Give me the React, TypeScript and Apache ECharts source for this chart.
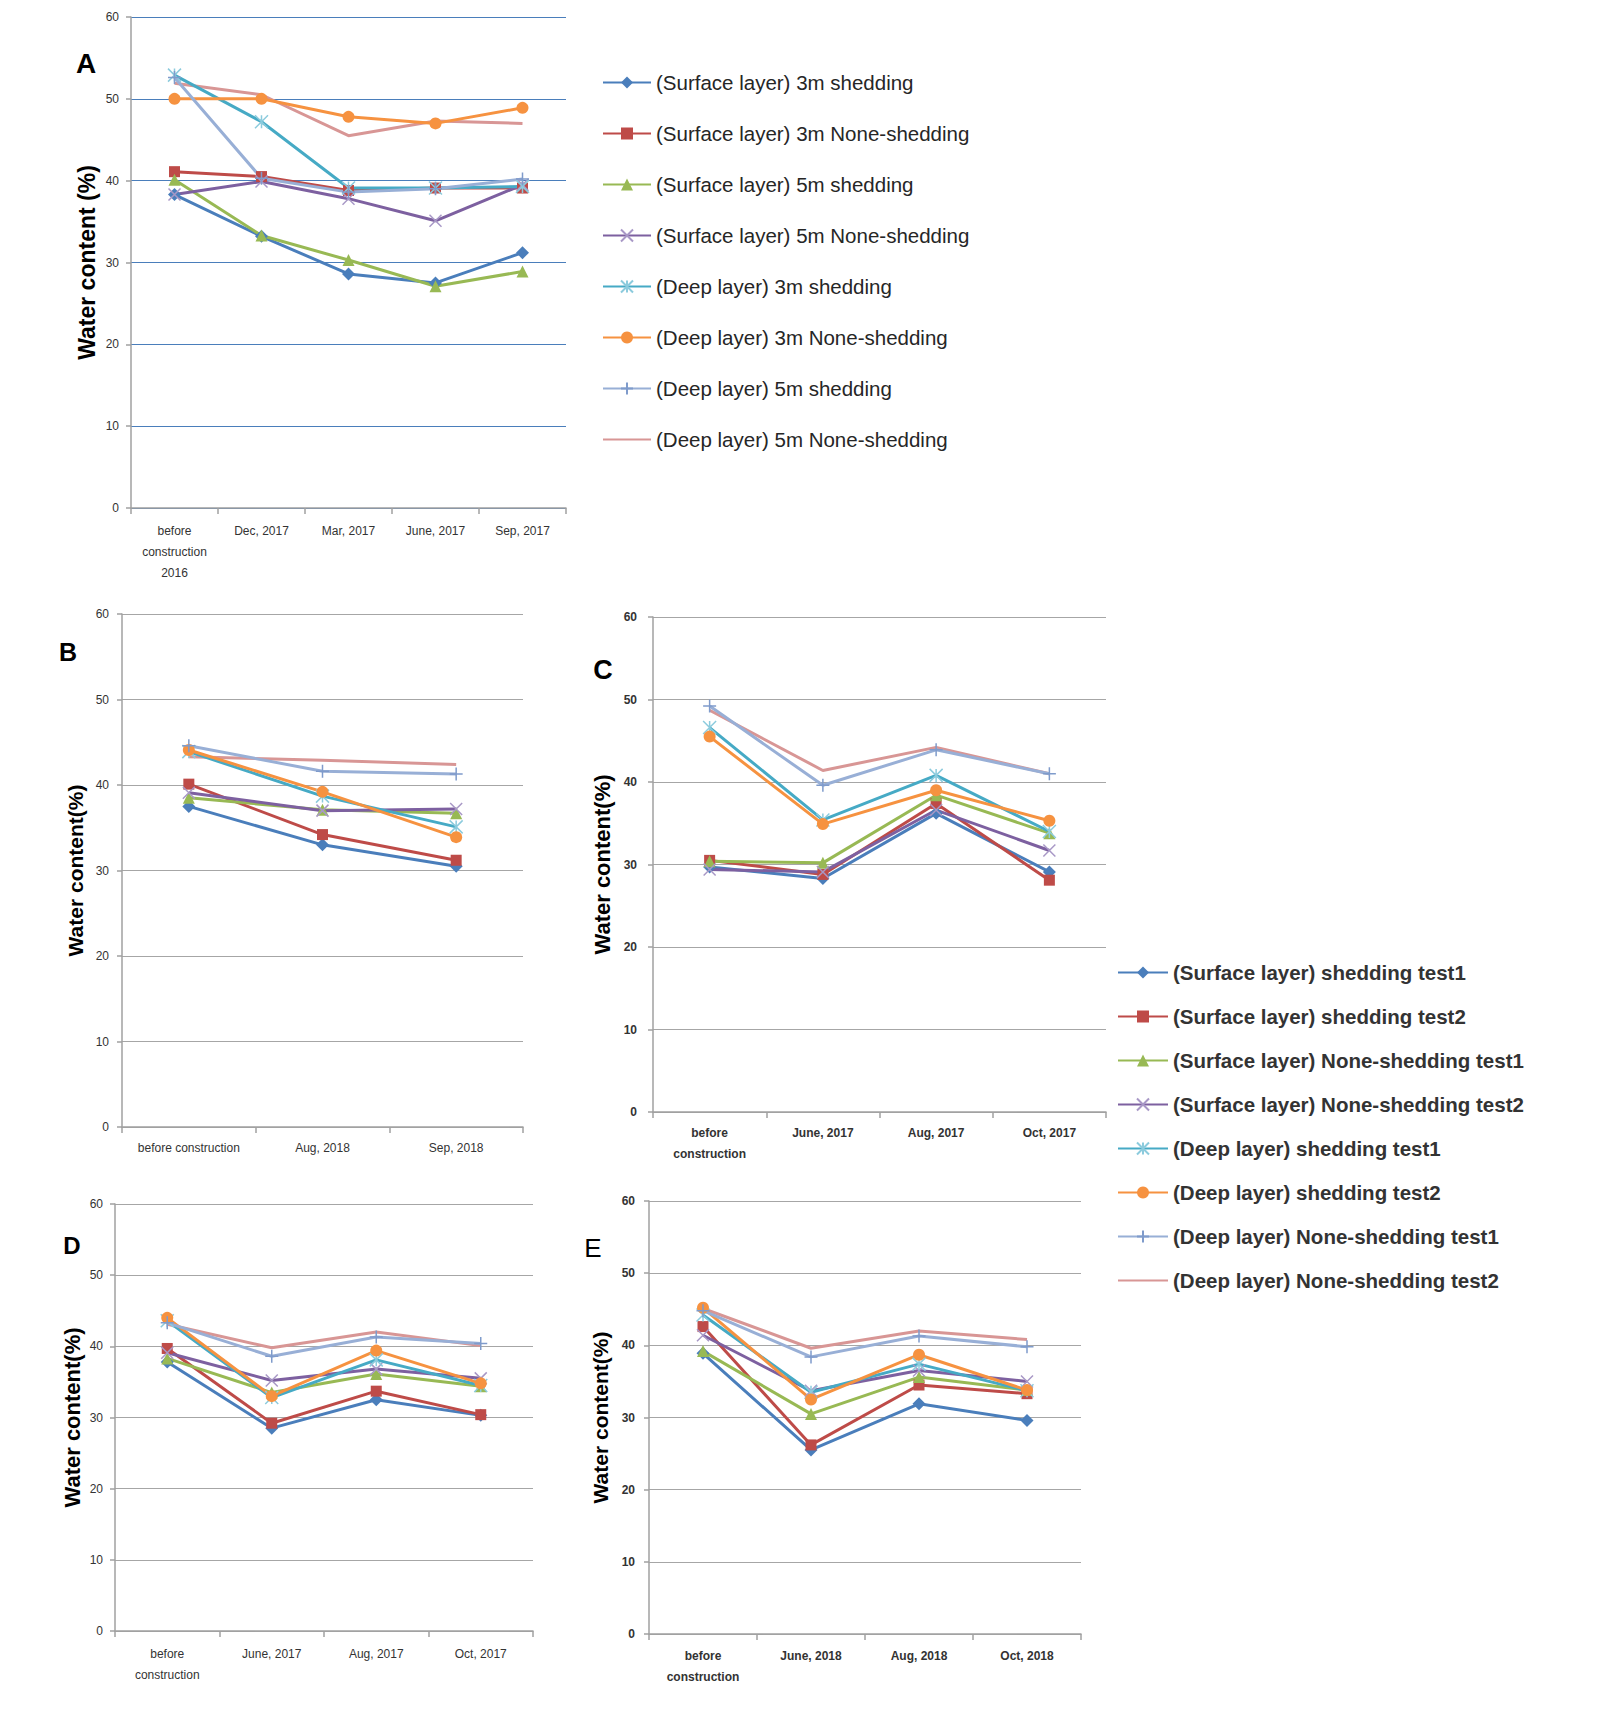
import React, { useEffect, useRef } from "react";
import * as echarts from "echarts";

// ---------- data ----------
const namesA = [
  "(Surface layer) 3m shedding",
  "(Surface layer) 3m None-shedding",
  "(Surface layer) 5m shedding",
  "(Surface layer) 5m None-shedding",
  "(Deep layer) 3m shedding",
  "(Deep layer) 3m None-shedding",
  "(Deep layer) 5m shedding",
  "(Deep layer) 5m None-shedding",
];
const namesTest = [
  "(Surface layer) shedding test1",
  "(Surface layer) shedding test2",
  "(Surface layer) None-shedding test1",
  "(Surface layer) None-shedding test2",
  "(Deep layer) shedding test1",
  "(Deep layer) shedding test2",
  "(Deep layer) None-shedding test1",
  "(Deep layer) None-shedding test2",
];

const yTicks = [0, 10, 20, 30, 40, 50, 60];

const catsA = ["before\nconstruction\n2016", "Dec, 2017", "Mar, 2017", "June, 2017", "Sep, 2017"];
const catsB = ["before construction", "Aug, 2018", "Sep, 2018"];
const catsC = ["before\nconstruction", "June, 2017", "Aug, 2017", "Oct, 2017"];
const catsD = ["before\nconstruction", "June, 2017", "Aug, 2017", "Oct, 2017"];
const catsE = ["before\nconstruction", "June, 2018", "Aug, 2018", "Oct, 2018"];

const valuesA = [
  [38.3, 33.2, 28.6, 27.5, 31.2],
  [41.1, 40.5, 38.8, 39.1, 39.1],
  [40.1, 33.3, 30.3, 27.1, 28.9],
  [38.3, 39.9, 37.8, 35.1, 39.5],
  [52.9, 47.2, 39.1, 39.1, 39.3],
  [50.0, 50.0, 47.8, 47.0, 48.9],
  [52.6, 40.3, 38.6, 39.0, 40.2],
  [51.9, 50.5, 45.5, 47.3, 47.0],
];
const valuesB = [
  [37.5, 33.0, 30.5],
  [40.1, 34.2, 31.2],
  [38.5, 37.1, 36.7],
  [39.1, 37.0, 37.2],
  [43.9, 38.7, 35.1],
  [44.1, 39.2, 33.9],
  [44.6, 41.6, 41.3],
  [43.3, 42.9, 42.4],
];
const valuesC = [
  [29.7, 28.3, 36.2, 29.1],
  [30.5, 28.8, 37.4, 28.1],
  [30.4, 30.2, 38.4, 33.8],
  [29.4, 29.1, 36.6, 31.7],
  [46.6, 35.4, 40.8, 34.0],
  [45.5, 34.9, 39.0, 35.3],
  [49.2, 39.6, 43.9, 41.0],
  [48.7, 41.4, 44.2, 41.0],
];
const valuesD = [
  [37.8, 28.5, 32.5, 30.3],
  [39.7, 29.2, 33.7, 30.4],
  [38.3, 33.5, 36.1, 34.4],
  [39.1, 35.2, 36.8, 35.5],
  [43.6, 32.8, 38.1, 34.5],
  [44.0, 33.0, 39.4, 34.8],
  [43.3, 38.6, 41.3, 40.4],
  [43.1, 39.8, 42.0, 40.1],
];
const valuesE = [
  [38.9, 25.5, 31.9, 29.6],
  [42.6, 26.2, 34.5, 33.3],
  [39.2, 30.5, 35.6, 33.8],
  [41.4, 33.7, 36.5, 35.0],
  [44.2, 33.5, 37.4, 33.7],
  [45.2, 32.5, 38.7, 33.8],
  [44.8, 38.4, 41.3, 39.8],
  [45.1, 39.6, 42.0, 40.8],
];

// ---------- styles ----------
const COLORS = ["#4A7EBB", "#BE4B48", "#98B954", "#7D60A0", "#46AAC5", "#F69240", "#98AFD6", "#D89695"];
const MARKER_STROKE = ["#4A7EBB", "#BE4B48", "#98B954", "#A898C6", "#8CCBDD", "#F69240", "#7F9BCB", "#D89695"];
const SYMBOLS = [
  "diamond",
  "rect",
  "triangle",
  "path://M0,0L10,10M10,0L0,10",
  "path://M0,0L10,10M10,0L0,10M5,0L5,10",
  "circle",
  "path://M5,0L5,10M0,5L10,5",
  "none",
];
const STROKED = [false, false, false, true, true, false, true, false];
const SIZES = [13, 11, 12, 12, 13, 12, 13, 0];
const FONT = "Liberation Sans";

type Panel = {
  cats: string[];
  values: number[][];
  names: string[];
  grid: { left: number; top: number; width: number; height: number };
  gridColor: string;
  yName: string;
  yNameGap: number;
  yNameSize: number;
  yLabelMargin: number;
  yLabelBold: boolean;
  xLabelMargin: number;
  xLineHeight: number;
  xLabelSize: number;
  xLabelBold: boolean;
  letter: string;
  letterPos: [number, number];
  letterSize: number;
  letterBold: boolean;
};

const panels: Panel[] = [
  {
    cats: catsA, values: valuesA, names: namesA,
    grid: { left: 131, top: 17, width: 435, height: 491 },
    gridColor: "#4A7EBB", yName: "Water content (%)", yNameGap: 33, yNameSize: 23,
    yLabelMargin: 12, yLabelBold: false, xLabelMargin: 12, xLineHeight: 21, xLabelSize: 12, xLabelBold: false,
    letter: "A", letterPos: [86, 63], letterSize: 28, letterBold: true,
  },
  {
    cats: catsB, values: valuesB, names: namesTest,
    grid: { left: 122, top: 614, width: 401, height: 513 },
    gridColor: "#A6A6A6", yName: "Water content(%)", yNameGap: 36, yNameSize: 21,
    yLabelMargin: 13, yLabelBold: false, xLabelMargin: 12.5, xLineHeight: 16, xLabelSize: 12, xLabelBold: false,
    letter: "B", letterPos: [68, 652], letterSize: 25, letterBold: true,
  },
  {
    cats: catsC, values: valuesC, names: namesTest,
    grid: { left: 653, top: 617, width: 453, height: 495 },
    gridColor: "#A6A6A6", yName: "Water content(%)", yNameGap: 40, yNameSize: 22,
    yLabelMargin: 16, yLabelBold: true, xLabelMargin: 10, xLineHeight: 21, xLabelSize: 12, xLabelBold: true,
    letter: "C", letterPos: [603, 670], letterSize: 27, letterBold: true,
  },
  {
    cats: catsD, values: valuesD, names: namesTest,
    grid: { left: 115, top: 1204, width: 418, height: 427 },
    gridColor: "#A6A6A6", yName: "Water content(%)", yNameGap: 32, yNameSize: 22,
    yLabelMargin: 12, yLabelBold: false, xLabelMargin: 12, xLineHeight: 21, xLabelSize: 12, xLabelBold: false,
    letter: "D", letterPos: [72, 1245], letterSize: 24, letterBold: true,
  },
  {
    cats: catsE, values: valuesE, names: namesTest,
    grid: { left: 649, top: 1201, width: 432, height: 433 },
    gridColor: "#A6A6A6", yName: "Water content(%)", yNameGap: 38, yNameSize: 21,
    yLabelMargin: 14, yLabelBold: true, xLabelMargin: 11, xLineHeight: 21, xLabelSize: 12, xLabelBold: true,
    letter: "E", letterPos: [593, 1248], letterSize: 26, letterBold: false,
  },
];

function buildOption() {
  const grid: any[] = [];
  const xAxis: any[] = [];
  const yAxis: any[] = [];
  const series: any[] = [];
  const graphic: any[] = [];

  panels.forEach((p, gi) => {
    grid.push({ ...p.grid });
    xAxis.push({
      type: "category",
      gridIndex: gi,
      data: p.cats,
      boundaryGap: true,
      axisLine: { show: true, lineStyle: { color: "#A0A0A0", width: 1.5 } },
      axisTick: { show: true, length: 6, lineStyle: { color: "#A0A0A0", width: 1.5 } },
      splitLine: { show: false },
      axisLabel: {
        interval: 0,
        margin: p.xLabelMargin,
        color: "#333333",
        fontFamily: FONT,
        fontSize: p.xLabelSize,
        fontWeight: p.xLabelBold ? "bold" : "normal",
        lineHeight: p.xLineHeight,
      },
    });
    yAxis.push({
      type: "value",
      gridIndex: gi,
      min: yTicks[0],
      max: yTicks[yTicks.length - 1],
      interval: yTicks[1] - yTicks[0],
      name: p.yName,
      nameLocation: "middle",
      nameRotate: 90,
      nameGap: p.yNameGap,
      nameTextStyle: { fontFamily: FONT, fontSize: p.yNameSize, fontWeight: "bold", color: "#000000" },
      axisLine: { show: true, lineStyle: { color: "#A0A0A0", width: 1.5 } },
      axisTick: { show: true, length: 5, lineStyle: { color: "#A0A0A0", width: 1.5 } },
      splitLine: { show: true, lineStyle: { color: p.gridColor, width: 1 } },
      axisLabel: {
        margin: p.yLabelMargin,
        color: "#333333",
        fontFamily: FONT,
        fontSize: 12,
        fontWeight: p.yLabelBold ? "bold" : "normal",
      },
    });
    p.values.forEach((vals, i) => {
      const noMarker = SYMBOLS[i] === "none";
      series.push({
        type: "line",
        name: p.names[i],
        xAxisIndex: gi,
        yAxisIndex: gi,
        data: vals,
        symbol: SYMBOLS[i],
        symbolSize: SIZES[i],
        showSymbol: !noMarker,
        lineStyle: { color: COLORS[i], width: 3 },
        itemStyle: STROKED[i]
          ? { color: MARKER_STROKE[i], borderColor: MARKER_STROKE[i], borderWidth: 1.5 }
          : noMarker
          ? { color: COLORS[i], opacity: 0 }
          : { color: COLORS[i], borderWidth: 0 },
        emphasis: { disabled: true },
        z: i === 7 ? 2 : 3,
      });
    });
    graphic.push({
      type: "text",
      x: p.letterPos[0],
      y: p.letterPos[1],
      style: {
        text: p.letter,
        fontFamily: FONT,
        fontSize: p.letterSize,
        fontWeight: p.letterBold ? "bold" : "normal",
        fill: "#000000",
        align: "center",
        verticalAlign: "middle",
      },
    });
  });

  const legend = [
    {
      orient: "vertical",
      left: 602,
      top: 72,
      padding: 0,
      itemWidth: 48,
      itemHeight: 15,
      itemGap: 30,
      selectedMode: false,
      data: namesA,
      textStyle: { fontFamily: FONT, fontSize: 20.5, color: "#262626" },
    },
    {
      orient: "vertical",
      left: 1117,
      top: 962,
      padding: 0,
      itemWidth: 50,
      itemHeight: 15,
      itemGap: 23,
      selectedMode: false,
      data: namesTest,
      textStyle: { fontFamily: FONT, fontSize: 20.5, fontWeight: "bold", color: "#333333" },
    },
  ];

  return {
    animation: false,
    backgroundColor: "#ffffff",
    grid,
    xAxis,
    yAxis,
    series,
    legend,
    graphic,
  };
}

export default function App() {
  const ref = useRef<HTMLDivElement>(null);
  useEffect(() => {
    if (!ref.current) return;
    const chart = echarts.init(ref.current, undefined, { renderer: "svg" });
    chart.setOption(buildOption() as any);
    return () => chart.dispose();
  }, []);
  return (
    <div
      ref={ref}
      style={{ position: "absolute", left: 0, top: 0, width: 1600, height: 1720, background: "#fff" }}
    />
  );
}
